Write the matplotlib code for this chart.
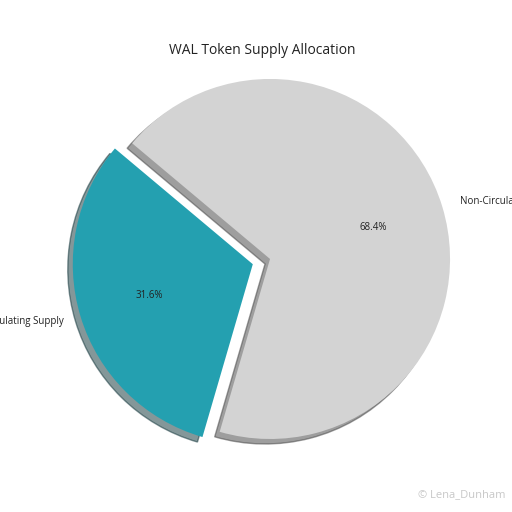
import matplotlib
matplotlib.use("Agg")
import matplotlib.pyplot as plt

labels = ["Circulating Supply", "Non-Circulating Supply"]
sizes = [31.6, 68.4]
colors = ["#24A0B0", "#D3D3D3"]
explode = [0.1, 0.0]
title = "WAL Token Supply Allocation"

plt.rcParams["font.family"] = ["Open Sans", "DejaVu Sans"]

fig = plt.figure(figsize=(5.12, 5.12), dpi=100)
ax = fig.add_axes([0.0879, 0.0547, 0.879, 0.879])
wedges, texts, autotexts = ax.pie(
    sizes, labels=labels, colors=colors, explode=explode,
    autopct="%1.1f%%", startangle=140, shadow=True,
    textprops={"fontsize": 7, "color": "#222222"},
)
ax.set_xlim(-1.25, 1.25)
ax.set_ylim(-1.25, 1.25)
ax.set_aspect("equal")

fig.text(0.512, 0.902, title, ha="center", va="center", fontsize=10, color="#222222")
fig.text(0.987, 0.033, "\u00a9 Lena_Dunham", ha="right", va="center",
         fontsize=8, color="#c8c8c8")

fig.savefig("out.png", dpi=100)
